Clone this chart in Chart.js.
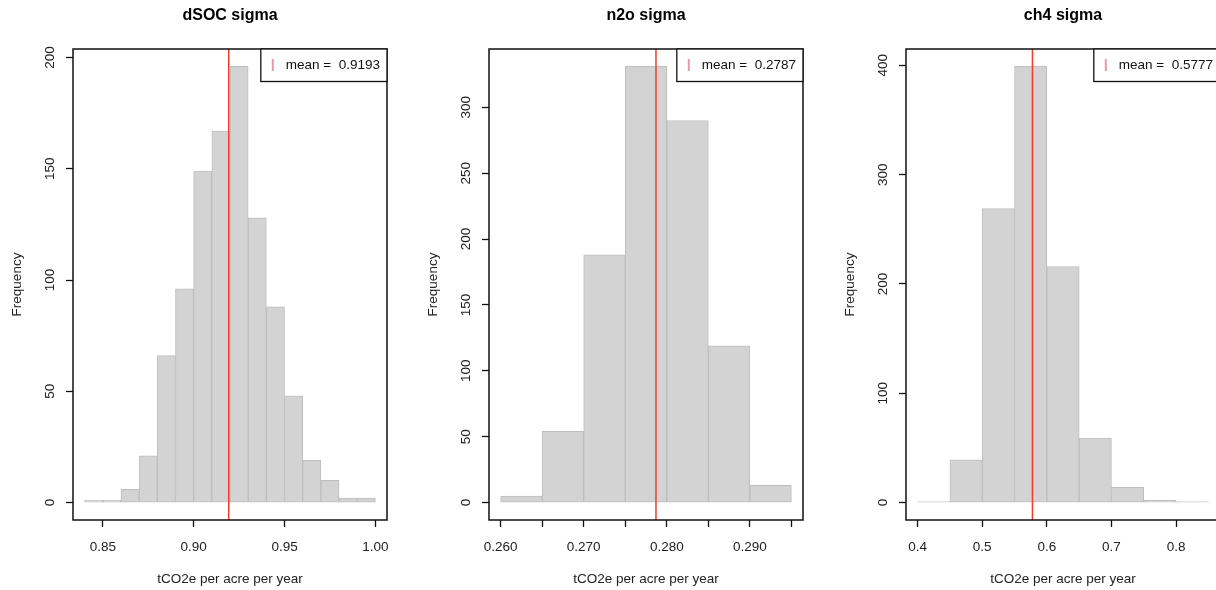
<!DOCTYPE html>
<html>
<head>
<meta charset="utf-8">
<script src="https://cdn.jsdelivr.net/npm/chart.js@4"></script>
<style>
  html, body { margin: 0; padding: 0; background: #fff; }
  body { width: 1216px; height: 590px; overflow: hidden; position: relative; }
  canvas { position: absolute; top: 0; }
</style>
</head>
<body>
<canvas id="c1" width="405" height="590" style="left:0px"></canvas>
<canvas id="c2" width="405" height="590" style="left:416px"></canvas>
<canvas id="c3" width="405" height="590" style="left:833px"></canvas>
<script>
// histogramas (1000 simulaciones cada uno)
const dsocBreaks = [0.84, 0.85, 0.86, 0.87, 0.88, 0.89, 0.90, 0.91, 0.92, 0.93, 0.94, 0.95, 0.96, 0.97, 0.98, 0.99, 1.00];
const dsocCounts = [1, 1, 6, 21, 66, 96, 149, 167, 196, 128, 88, 48, 19, 10, 2, 2];
const dsocMean = 0.9193;
const dsocXTicks = [0.85, 0.90, 0.95, 1.00];
const dsocXLabels = ["0.85", "0.90", "0.95", "1.00"];
const dsocYTicks = [0, 50, 100, 150, 200];

const n2oBreaks = [0.260, 0.265, 0.270, 0.275, 0.280, 0.285, 0.290, 0.295];
const n2oCounts = [5, 54, 188, 331, 290, 119, 13];
const n2oMean = 0.2787;
const n2oXTicks = [0.260, 0.265, 0.270, 0.275, 0.280, 0.285, 0.290, 0.295];
const n2oXLabels = ["0.260", "", "0.270", "", "0.280", "", "0.290", ""];
const n2oYTicks = [0, 50, 100, 150, 200, 250, 300];

const ch4Breaks = [0.40, 0.45, 0.50, 0.55, 0.60, 0.65, 0.70, 0.75, 0.80, 0.85];
const ch4Counts = [1, 39, 269, 399, 216, 59, 14, 2, 1];
const ch4Mean = 0.5777;
const ch4XTicks = [0.4, 0.5, 0.6, 0.7, 0.8];
const ch4XLabels = ["0.4", "0.5", "0.6", "0.7", "0.8"];
const ch4YTicks = [0, 100, 200, 300, 400];

const xTitle = "tCO2e per acre per year";
const yTitle = "Frequency";

const FONT = "'Liberation Sans', Arial, Helvetica, sans-serif";

// marco, linea de la media y leyenda
const extras = {
    id: "extras",
    afterDatasetsDraw(chart, args, opts) {
        const { ctx, chartArea: a } = chart;
        const x = chart.scales.x.getPixelForValue(opts.mean);
        ctx.save();
        ctx.strokeStyle = "#f23c2a";
        ctx.lineWidth = 1.5;
        ctx.beginPath();
        ctx.moveTo(x, a.top);
        ctx.lineTo(x, a.bottom);
        ctx.stroke();

        ctx.strokeStyle = "#111";
        ctx.lineWidth = 1.5;
        ctx.strokeRect(a.left, a.top, a.right - a.left, a.bottom - a.top);

        const txt = "mean =  " + opts.mean.toFixed(4);
        ctx.font = "13.5px " + FONT;
        const w = ctx.measureText(txt).width + 32;
        const h = 32.5;
        const lx = a.right - w;
        ctx.fillStyle = "#fff";
        ctx.fillRect(lx, a.top, w, h);
        ctx.lineWidth = 1.3;
        ctx.strokeRect(lx, a.top, w, h);
        ctx.strokeStyle = "#e99aa6";
        ctx.lineWidth = 2;
        ctx.beginPath();
        ctx.moveTo(lx + 12, a.top + 10);
        ctx.lineTo(lx + 12, a.top + 22);
        ctx.stroke();
        ctx.fillStyle = "#111";
        ctx.textBaseline = "middle";
        ctx.textAlign = "left";
        ctx.fillText(txt, lx + 25, a.top + 16.5);
        ctx.restore();
    },
};

function crearHistograma(id, titulo, breaks, counts, mean, xTicks, xLabels, yTicks) {
    const ctx = document.getElementById(id);
    const datos = counts.map((c, i) => ({ x: (breaks[i] + breaks[i + 1]) / 2, y: c }));
    const rx = breaks[breaks.length - 1] - breaks[0];
    const ymax = Math.max(...counts);

    new Chart(ctx, {
        type: "bar",
        data: {
            datasets: [
                {
                    data: datos,
                    backgroundColor: "#d3d3d3",
                    borderColor: "#bebebe",
                    borderWidth: 1,
                    borderSkipped: false,
                    barPercentage: 1,
                    categoryPercentage: 1,
                },
            ],
        },
        options: {
            responsive: false,
            animation: false,
            devicePixelRatio: 1,
            events: [],
            layout: { padding: { left: 0, right: 18, top: 0, bottom: 0 } },
            plugins: {
                legend: { display: false },
                tooltip: { enabled: false },
                title: {
                    display: true,
                    text: titulo,
                    fullSize: false,
                    color: "#000",
                    font: { family: FONT, size: 16, weight: "bold" },
                    padding: { top: 6.4, bottom: 23.4 },
                },
                extras: { mean: mean },
            },
            scales: {
                x: {
                    type: "linear",
                    min: breaks[0] - 0.04 * rx,
                    max: breaks[breaks.length - 1] + 0.04 * rx,
                    offset: false,
                    afterBuildTicks: (axis) => {
                        axis.ticks = xTicks.map((v) => ({ value: v }));
                    },
                    afterFit: (axis) => {
                        axis.height = 70;
                    },
                    grid: {
                        offset: false,
                        drawOnChartArea: false,
                        drawTicks: true,
                        tickLength: 7,
                        tickWidth: 1.3,
                        tickColor: "#111",
                    },
                    border: { display: false },
                    ticks: {
                        autoSkip: false,
                        maxRotation: 0,
                        minRotation: 0,
                        padding: 12,
                        color: "#222",
                        font: { family: FONT, size: 13.5 },
                        callback: (v, i) => xLabels[i],
                    },
                    title: {
                        display: true,
                        text: xTitle,
                        color: "#222",
                        font: { family: FONT, size: 13.5 },
                        padding: { top: 0, bottom: 3 },
                    },
                },
                y: {
                    type: "linear",
                    min: -0.04 * ymax,
                    max: 1.04 * ymax,
                    afterBuildTicks: (axis) => {
                        axis.ticks = yTicks.map((v) => ({ value: v }));
                    },
                    afterFit: (axis) => {
                        axis.width = 73;
                    },
                    grid: {
                        drawOnChartArea: false,
                        drawTicks: true,
                        tickLength: 7,
                        tickWidth: 1.3,
                        tickColor: "#111",
                    },
                    border: { display: false },
                    ticks: {
                        minRotation: 90,
                        maxRotation: 90,
                        crossAlign: "center",
                        padding: 4,
                        color: "#222",
                        font: { family: FONT, size: 13.5 },
                        callback: (v, i) => String(yTicks[i]),
                    },
                    title: {
                        display: true,
                        text: yTitle,
                        color: "#222",
                        font: { family: FONT, size: 13.5 },
                        padding: { top: 9.4, bottom: 0 },
                    },
                },
            },
        },
        plugins: [extras],
    });
}

document.addEventListener("DOMContentLoaded", () => {
    crearHistograma("c1", "dSOC sigma", dsocBreaks, dsocCounts, dsocMean, dsocXTicks, dsocXLabels, dsocYTicks);
    crearHistograma("c2", "n2o sigma", n2oBreaks, n2oCounts, n2oMean, n2oXTicks, n2oXLabels, n2oYTicks);
    crearHistograma("c3", "ch4 sigma", ch4Breaks, ch4Counts, ch4Mean, ch4XTicks, ch4XLabels, ch4YTicks);
});
</script>
</body>
</html>
